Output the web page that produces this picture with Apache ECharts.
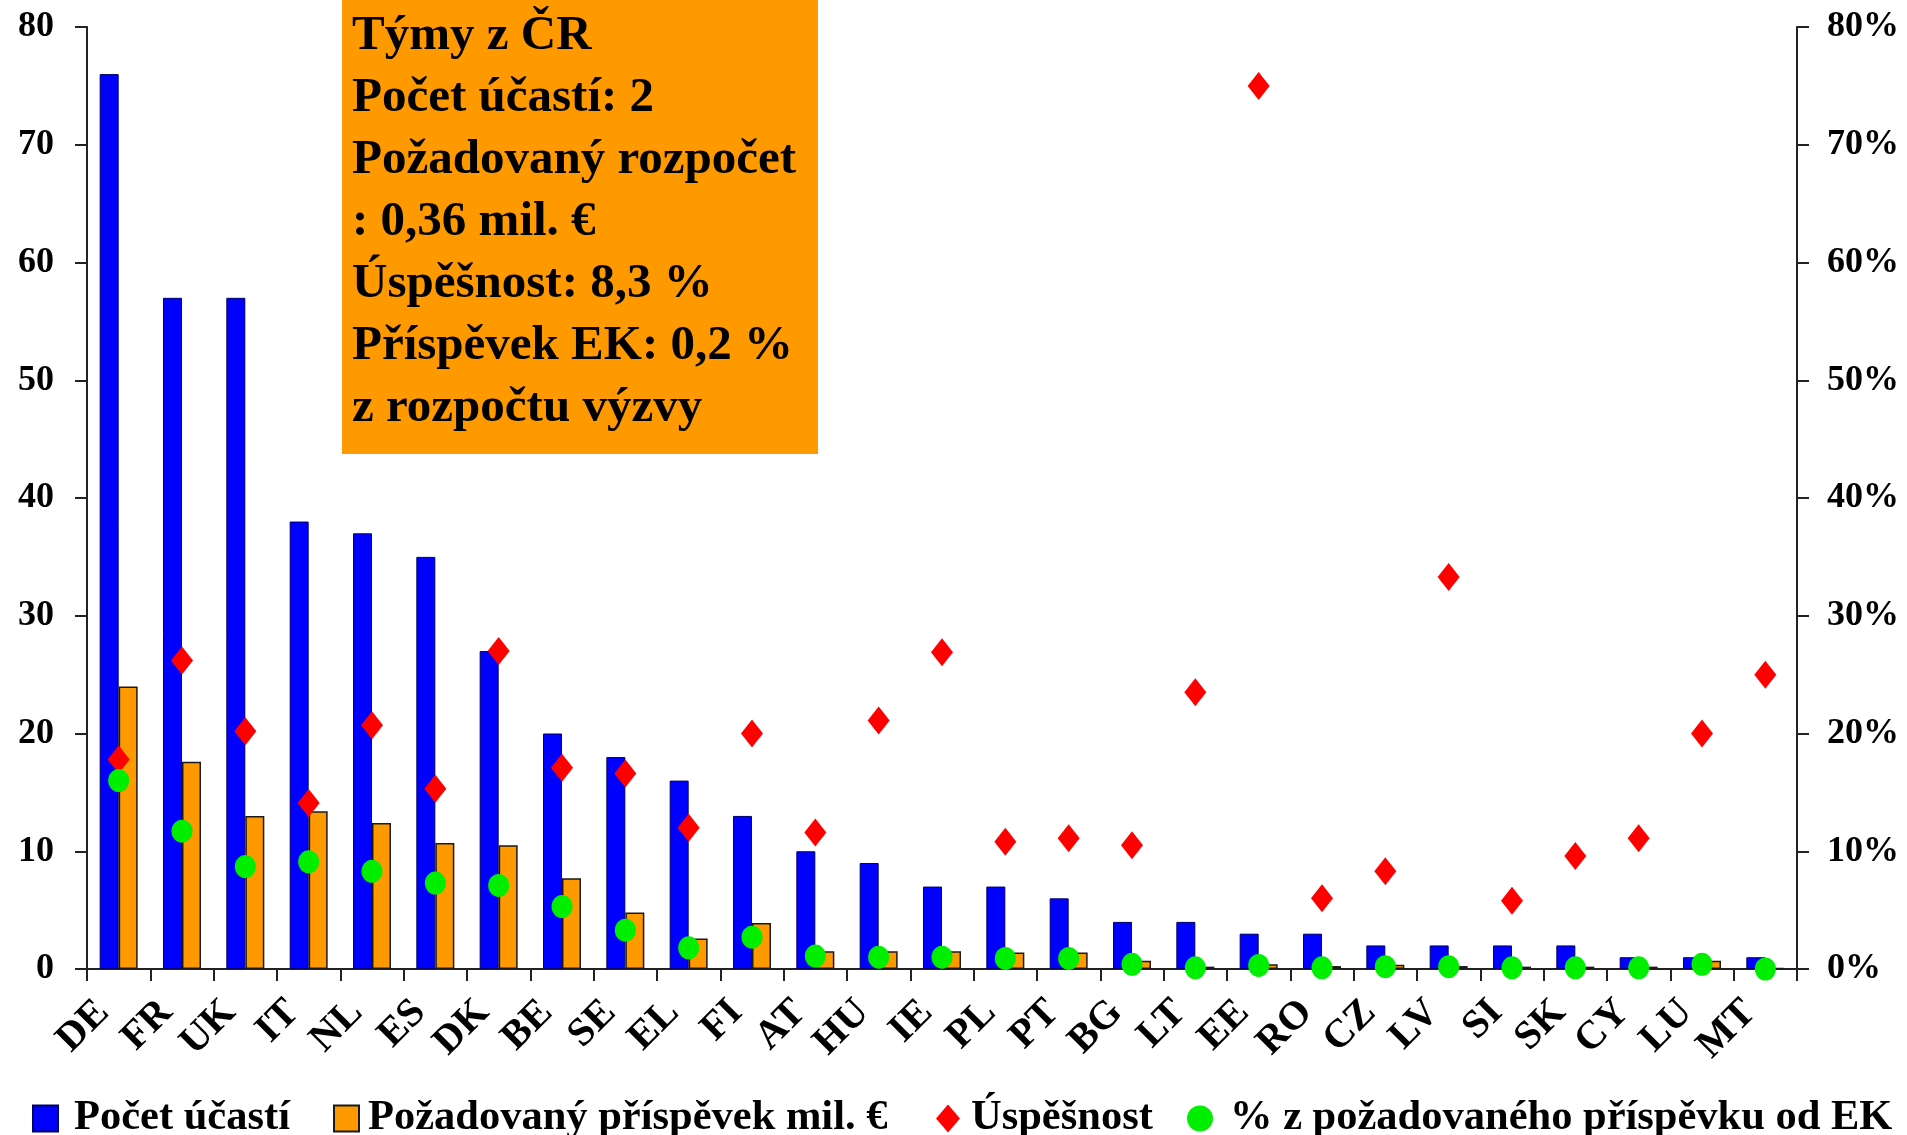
<!DOCTYPE html>
<html>
<head>
<meta charset="utf-8">
<script src="https://cdn.jsdelivr.net/npm/echarts@6/dist/echarts.min.js"></script>
<style>
  html, body { margin: 0; padding: 0; background: #ffffff; }
  #chart { width: 1907px; height: 1135px; }
</style>
</head>
<body>
<div id="chart"></div>
<script>
// Country codes along the category axis
const countries = ['DE','FR','UK','IT','NL','ES','DK','BE','SE','EL','FI','AT','HU','IE','PL','PT','BG','LT','EE','RO','CZ','LV','SI','SK','CY','LU','MT'];

// Number of participations (left axis)
const participations = [76,57,57,38,37,35,27,20,18,16,13,10,9,7,7,6,4,4,3,3,2,2,2,2,1,1,1];

// Requested contribution, mil. € (left axis)
const requested = [24.0,17.6,13.0,13.4,12.4,10.7,10.5,7.7,4.8,2.6,3.9,1.5,1.5,1.5,1.4,1.4,0.7,0.2,0.4,0.25,0.36,0.25,0.2,0.2,0.2,0.7,0.1];

// Success rate, % (right axis)
const successRate = [17.8,26.2,20.2,14.1,20.7,15.3,27.0,17.1,16.6,12.0,20.0,11.6,21.1,26.9,10.8,11.1,10.5,23.5,75.0,6.0,8.3,33.3,5.8,9.6,11.1,20.0,25.0];

// Share of the requested contribution granted by the EC, % (right axis)
const ekShare = [16.0,11.7,8.7,9.1,8.3,7.3,7.1,5.3,3.3,1.8,2.7,1.1,1.0,1.0,0.9,0.9,0.4,0.1,0.3,0.1,0.2,0.2,0.1,0.1,0.1,0.4,0.0];

// Axis ticks
const leftTicks = { min: 0, max: 80, interval: 10 };
const rightTicks = { min: 0, max: 80, interval: 10 };

// Summary for Czech teams
const summaryLines = [
  'Týmy z ČR',
  'Počet účastí: 2',
  'Požadovaný rozpočet',
  ': 0,36 mil. €',
  'Úspěšnost: 8,3 %',
  'Příspěvek EK: 0,2 %',
  'z rozpočtu výzvy'
];

const FONT = "'Liberation Serif', 'Times New Roman', serif";
const AXIS_COLOR = '#222222';

const chart = echarts.init(document.getElementById('chart'), null, { renderer: 'canvas' });

const legendText = { fontFamily: FONT, fontWeight: 'bold', fontSize: 42.5, color: '#000' };

function legendAt(name, left, icon, w, h, textPad) {
  return {
    data: [name],
    left: left,
    top: 1097,
    padding: 0,
    icon: icon,
    itemWidth: w,
    itemHeight: h,
    selectedMode: false,
    textStyle: Object.assign({ padding: [0, 0, 0, textPad] }, legendText)
  };
}

const option = {
  backgroundColor: '#ffffff',
  animation: false,
  grid: { left: 87, right: 110, top: 27, bottom: 166, containLabel: false },
  legend: [
    legendAt('Počet účastí', 32, 'rect', 25, 26, 11),
    legendAt('Požadovaný příspěvek mil. €', 333, 'rect', 25, 26, 4),
    legendAt('Úspěšnost', 936, 'diamond', 24, 28, 6),
    legendAt('% z požadovaného příspěvku od EK', 1187, 'circle', 26, 27, 12)
  ],
  xAxis: {
    type: 'category',
    data: countries,
    boundaryGap: true,
    axisLine: { show: true, lineStyle: { color: AXIS_COLOR, width: 2 } },
    axisTick: { show: true, alignWithLabel: false, length: 12, inside: false, lineStyle: { color: AXIS_COLOR, width: 2 } },
    axisLabel: {
      rotate: 45,
      margin: 22,
      interval: 0,
      padding: [0, 22, 0, 0],
      fontFamily: FONT,
      fontWeight: 'bold',
      fontSize: 40,
      color: '#000'
    },
    splitLine: { show: false }
  },
  yAxis: [
    {
      type: 'value',
      min: leftTicks.min,
      max: leftTicks.max,
      interval: leftTicks.interval,
      axisLine: { show: true, lineStyle: { color: AXIS_COLOR, width: 2 } },
      axisTick: { show: true, length: 12, lineStyle: { color: AXIS_COLOR, width: 2 } },
      axisLabel: { margin: 33, fontFamily: FONT, fontWeight: 'bold', fontSize: 36, color: '#000' },
      splitLine: { show: false }
    },
    {
      type: 'value',
      position: 'right',
      min: rightTicks.min,
      max: rightTicks.max,
      interval: rightTicks.interval,
      axisLine: { show: true, lineStyle: { color: AXIS_COLOR, width: 2 } },
      axisTick: { show: true, length: 12, lineStyle: { color: AXIS_COLOR, width: 2 } },
      axisLabel: { margin: 30, formatter: '{value}%', fontFamily: FONT, fontWeight: 'bold', fontSize: 36, color: '#000', align: 'left' },
      splitLine: { show: false }
    }
  ],
  series: [
    {
      name: 'Počet účastí',
      type: 'bar',
      yAxisIndex: 0,
      data: participations,
      barWidth: 19,
      barGap: '0%',
      itemStyle: { color: '#0000FF', borderColor: '#000066', borderWidth: 1 }
    },
    {
      name: 'Požadovaný příspěvek mil. €',
      type: 'bar',
      yAxisIndex: 0,
      data: requested,
      barWidth: 19,
      barGap: '0%',
      itemStyle: { color: '#FF9900', borderColor: '#1a1a1a', borderWidth: 1.5 }
    },
    {
      name: 'Úspěšnost',
      type: 'scatter',
      yAxisIndex: 1,
      data: successRate,
      symbol: 'diamond',
      symbolSize: [22, 28],
      itemStyle: { color: '#FF0000', opacity: 1 },
      z: 3
    },
    {
      name: '% z požadovaného příspěvku od EK',
      type: 'scatter',
      yAxisIndex: 1,
      data: ekShare,
      symbol: 'circle',
      symbolSize: [21, 23],
      itemStyle: { color: '#00EE00', opacity: 1 },
      z: 4
    }
  ],
  graphic: [
    {
      type: 'group',
      left: 342,
      top: 0,
      z: 10,
      children: [
        {
          type: 'rect',
          shape: { x: 0, y: 0, width: 476, height: 454 },
          style: { fill: '#FF9900' }
        },
        {
          type: 'text',
          x: 10,
          y: 5,
          style: {
            text: summaryLines.join('\n'),
            fontFamily: FONT,
            fontWeight: 'bold',
            fontSize: 49,
            lineHeight: 62,
            fill: '#000',
            textVerticalAlign: 'top'
          }
        }
      ]
    }
  ]
};

chart.setOption(option);
</script>
</body>
</html>
